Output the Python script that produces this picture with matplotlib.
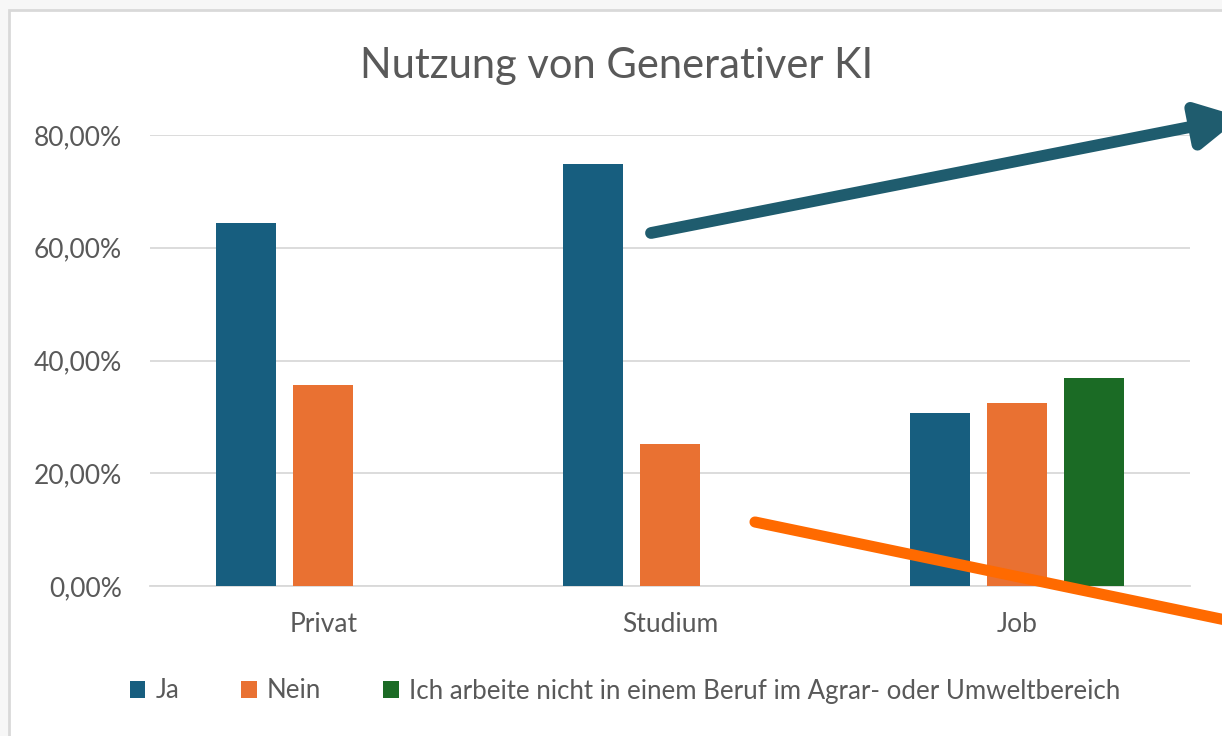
import numpy as np
import matplotlib
matplotlib.use('Agg')
from matplotlib import pyplot as plt
from matplotlib.patches import Rectangle, FancyArrowPatch
from matplotlib.ticker import FuncFormatter

# data
categories = ['Privat', 'Studium', 'Job']
ja = [0.644, 0.748, 0.307]
nein = [0.356, 0.252, 0.324]
kein_beruf = [np.nan, np.nan, 0.369]
series_names = ['Ja', 'Nein', 'Ich arbeite nicht in einem Beruf im Agrar- oder Umweltbereich']
yticks = [0.0, 0.2, 0.4, 0.6, 0.8]

col = ['#175E7F', '#E97132', '#1B6B25']
grey_txt = '#595959'
W, H = 1222, 736

fig = plt.figure(figsize=(W / 100, H / 100), dpi=100)
fig.patch.set_facecolor('#F7F7F7')

# chart area with light border
fig.add_artist(Rectangle((9 / W, -0.02), 1.1, 1 - 10 / H + 0.02, transform=fig.transFigure,
                         facecolor='white', edgecolor='#D9D9D9', linewidth=2, zorder=0))

ax = fig.add_axes([150 / W, 1 - 586 / H, (1190 - 150) / W, (586 - 135) / H])
ax.set_facecolor('none')

x = np.arange(len(categories))
slot = 0.222
bw = 0.173
for i, vals in enumerate([ja, nein, kein_beruf]):
    ax.bar(x + (i - 1) * slot, vals, width=bw, color=col[i], label=series_names[i], zorder=3)

ax.set_xlim(-0.5, 2.5)
ax.set_ylim(0, 0.8)
ax.set_yticks(yticks)
ax.yaxis.set_major_formatter(FuncFormatter(lambda v, p: '{:.2f}%'.format(v * 100).replace('.', ',')))
ax.set_xticks(x)
ax.set_xticklabels(categories)
ax.grid(axis='y', color='#D9D9D9', linewidth=1.3, zorder=0)
for s in ['top', 'right', 'left']:
    ax.spines[s].set_visible(False)
ax.spines['bottom'].set_color('#D9D9D9')
ax.spines['bottom'].set_linewidth(1.3)
ax.tick_params(axis='both', length=0, colors=grey_txt)
ax.tick_params(axis='y', pad=20, labelsize=19)
ax.tick_params(axis='x', pad=19, labelsize=19)
for t in ax.get_xticklabels() + ax.get_yticklabels():
    t.set_family(['Lato', 'DejaVu Sans'])

fig.text(617 / W, 1 - 66 / H, 'Nutzung von Generativer KI', ha='center', va='center',
         fontsize=30, color=grey_txt, family=['Lato', 'DejaVu Sans'])

leg = fig.legend(loc='center', bbox_to_anchor=(625 / W, 1 - 691 / H), ncol=3, frameon=False,
                 handlelength=0.6, handleheight=0.6, handletextpad=0.4, columnspacing=2.4,
                 prop={'family': ['Lato', 'DejaVu Sans'], 'size': 18.6})
for t in leg.get_texts():
    t.set_color(grey_txt)

# overlaid arrows
def fx(px, py):
    return (px / W, 1 - py / H)

a1 = FancyArrowPatch(fx(651, 233), fx(1241, 117), transform=fig.transFigure,
                     arrowstyle='-|>,head_length=0.85,head_width=0.45', mutation_scale=30,
                     color='#1F5C6E', linewidth=8.5, shrinkA=0, shrinkB=0, zorder=10)
fig.add_artist(a1)
a2 = FancyArrowPatch(fx(755, 522), fx(1240, 623), transform=fig.transFigure,
                     arrowstyle='-', color='#FF6A00', linewidth=8, shrinkA=0, shrinkB=0, zorder=10)
fig.add_artist(a2)

fig.savefig('out.png', dpi=100, facecolor=fig.get_facecolor())
